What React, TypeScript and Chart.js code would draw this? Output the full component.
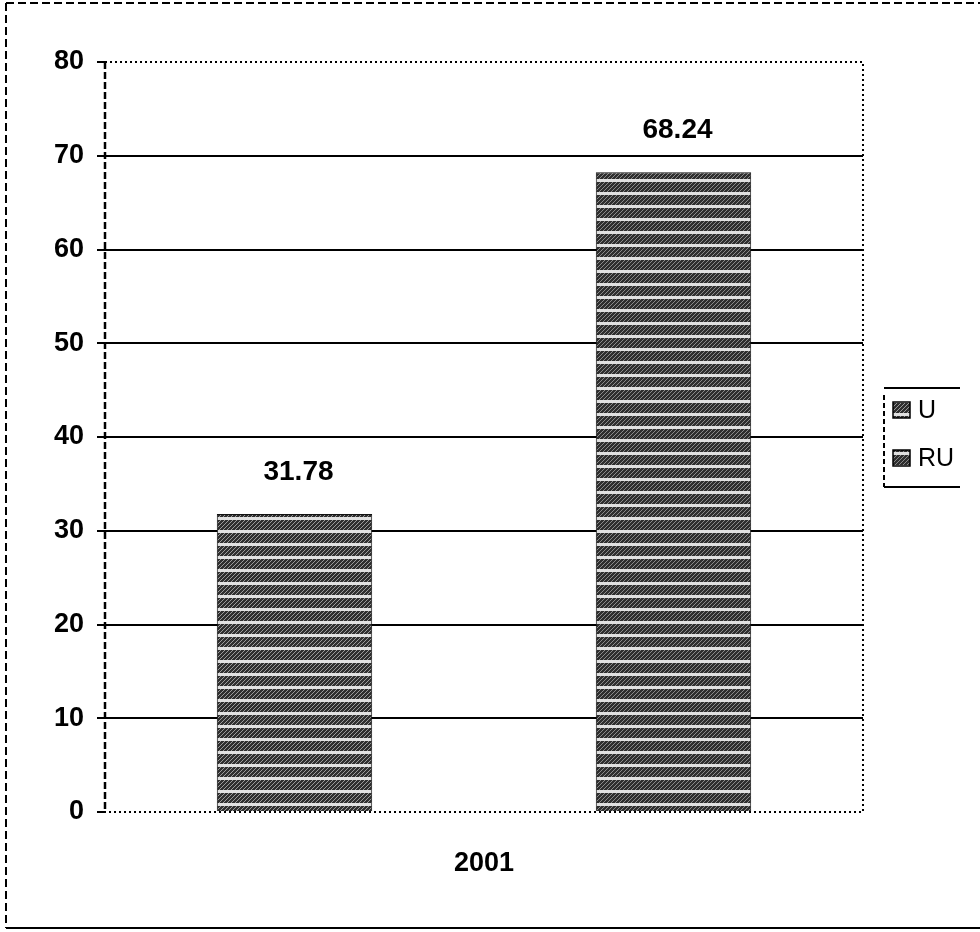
import React, { useEffect, useRef } from "react";
import { Chart, registerables } from "chart.js";

Chart.register(...registerables);

const categories: string[] = ["2001"];
const seriesNames: string[] = ["U", "RU"];
const uValues: number[] = [31.78];
const ruValues: number[] = [68.24];
const yTicks: number[] = [0, 10, 20, 30, 40, 50, 60, 70, 80];

function makePattern(variant: number): CanvasPattern | string {
  const c = document.createElement("canvas");
  c.width = 12;
  c.height = 13;
  const g = c.getContext("2d");
  if (!g) return "#444";
  g.fillStyle = "#2e2e2e";
  g.fillRect(0, 0, 12, 13);
  g.fillStyle = variant === 0 ? "#9a9a9a" : "#8a8a8a";
  for (let y = 0; y < 10; y++) {
    for (let x = 0; x < 12; x++) {
      if ((x + y) % 4 === 0) g.fillRect(x, y, 1, 1);
    }
  }
  g.fillStyle = "#e0e0e0";
  g.fillRect(0, 10, 12, 3);
  const p = g.createPattern(c, "repeat");
  return p || "#444";
}

const FONT = "'Liberation Sans', Arial, sans-serif";

const framePlugin = {
  id: "framePlugin",
  beforeDraw(chart: any) {
    const ctx = chart.ctx;
    ctx.save();
    ctx.strokeStyle = "#000";
    ctx.lineWidth = 2;
    ctx.setLineDash([8, 4]);
    ctx.beginPath();
    ctx.moveTo(6, 3);
    ctx.lineTo(6, 928);
    ctx.moveTo(6, 3);
    ctx.lineTo(980, 3);
    ctx.stroke();
    ctx.setLineDash([]);
    ctx.beginPath();
    ctx.moveTo(6, 928);
    ctx.lineTo(980, 928);
    ctx.stroke();
    ctx.restore();
  },
  afterDatasetsDraw(chart: any) {
    const ctx = chart.ctx;
    const a = chart.chartArea;
    ctx.save();
    ctx.strokeStyle = "#000";
    ctx.lineWidth = 2;
    ctx.setLineDash([2, 3]);
    ctx.beginPath();
    ctx.moveTo(a.left, a.top);
    ctx.lineTo(a.right, a.top);
    ctx.lineTo(a.right, a.bottom);
    ctx.lineTo(a.left, a.bottom);
    ctx.stroke();
    ctx.setLineDash([7, 3]);
    ctx.lineWidth = 2.5;
    ctx.beginPath();
    ctx.moveTo(a.left, a.top);
    ctx.lineTo(a.left, a.bottom);
    ctx.stroke();
    ctx.setLineDash([]);

    // data labels
    ctx.fillStyle = "#000";
    ctx.font = "bold 28px " + FONT;
    ctx.textAlign = "center";
    ctx.textBaseline = "bottom";
    chart.data.datasets.forEach((ds: any, i: number) => {
      const meta = chart.getDatasetMeta(i);
      meta.data.forEach((bar: any, j: number) => {
        const v = ds.data[j];
        ctx.fillText(v.toFixed(2), bar.x + 4, bar.y - 28);
      });
    });

    // legend
    ctx.lineWidth = 2;
    ctx.beginPath();
    ctx.moveTo(884, 388);
    ctx.lineTo(960, 388);
    ctx.moveTo(884, 487);
    ctx.lineTo(960, 487);
    ctx.stroke();
    ctx.setLineDash([5, 3]);
    ctx.beginPath();
    ctx.moveTo(884, 395);
    ctx.lineTo(884, 487);
    ctx.stroke();
    ctx.setLineDash([]);
    ctx.font = "25px " + FONT;
    ctx.textAlign = "left";
    ctx.textBaseline = "middle";
    const ys = [410, 458];
    chart.data.datasets.forEach((ds: any, i: number) => {
      const y = ys[i];
      ctx.fillStyle = ds.backgroundColor;
      ctx.fillRect(893, y - 8, 17, 16);
      ctx.strokeStyle = "#000";
      ctx.lineWidth = 1.5;
      ctx.strokeRect(893, y - 8, 17, 16);
      ctx.fillStyle = "#000";
      ctx.fillText(ds.label, 918, y + 1);
    });
    ctx.restore();
  },
};

export default function App() {
  const ref = useRef<HTMLCanvasElement | null>(null);
  useEffect(() => {
    if (!ref.current) return;
    const p1 = makePattern(0);
    const p2 = makePattern(1);
    const chart = new Chart(ref.current, {
      type: "bar",
      data: {
        labels: categories,
        datasets: [
          {
            label: seriesNames[0],
            data: uValues,
            backgroundColor: p1 as any,
            borderColor: "#111",
            borderWidth: 1,
            categoryPercentage: 1.0,
            barPercentage: 0.41,
          },
          {
            label: seriesNames[1],
            data: ruValues,
            backgroundColor: p2 as any,
            borderColor: "#111",
            borderWidth: 1,
            categoryPercentage: 1.0,
            barPercentage: 0.41,
          },
        ],
      },
      options: {
        animation: false,
        responsive: false,
        maintainAspectRatio: false,
        layout: { padding: { left: 0, right: 117, top: 62, bottom: 0 } },
        plugins: {
          legend: { display: false },
          tooltip: { enabled: false },
        },
        scales: {
          x: {
            grid: { display: false },
            border: { display: false },
            ticks: {
              padding: 27,
              color: "#000",
              font: { family: FONT, size: 27, weight: "bold" },
            },
            afterFit(scale: any) {
              scale.height = 120;
            },
          },
          y: {
            min: 0,
            max: 80,
            afterBuildTicks(scale: any) {
              scale.ticks = yTicks.map((v) => ({ value: v }));
            },
            grid: {
              color: (c: any) =>
                c.tick && (c.tick.value === 0 || c.tick.value === 80) ? "rgba(0,0,0,0)" : "#000",
              lineWidth: 2,
              tickLength: 8,
              tickColor: "#000",
              tickWidth: 2,
            },
            border: { display: false },
            ticks: {
              padding: 13,
              color: "#000",
              font: { family: FONT, size: 27, weight: "bold" },
            },
            afterFit(scale: any) {
              scale.width = 105;
            },
          },
        },
      },
      plugins: [framePlugin],
    });
    return () => chart.destroy();
  }, []);
  return (
    <div style={{ position: "absolute", left: 0, top: 0, width: 980, height: 932 }}>
      <canvas ref={ref} width={980} height={932} style={{ width: 980, height: 932 }} />
    </div>
  );
}
